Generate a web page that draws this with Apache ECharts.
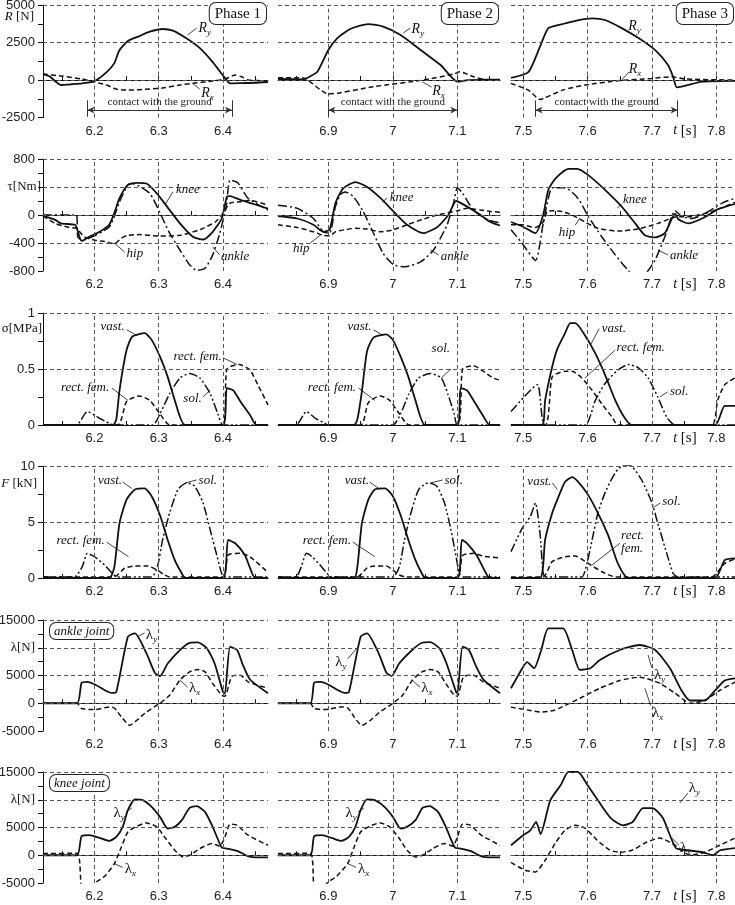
<!DOCTYPE html>
<html>
<head>
<meta charset="utf-8">
<script src="https://cdn.jsdelivr.net/npm/echarts@6/dist/echarts.min.js"></script>
<style>
  html, body { margin: 0; padding: 0; background: #fff; }
  #chart { width: 735px; height: 905px; }
</style>
</head>
<body>
<div id="chart"></div>
<script>
// ---- axes: three phases (columns) x six quantities (rows)
const xLabels = [[6.2, 6.3, 6.4], [6.9, 7, 7.1], [7.5, 7.6, 7.7, 7.8]];
const xTicks = [
  [6.15, 6.2, 6.25, 6.3, 6.35, 6.4, 6.45],
  [6.85, 6.9, 6.95, 7, 7.05, 7.1, 7.15],
  [7.5, 7.55, 7.6, 7.65, 7.7, 7.75, 7.8]
];
const xRange = [[6.12, 6.47], [6.822, 7.166], [7.481, 7.829]];
const yRange = [[-2500, 5000], [-800, 800], [0, 1], [0, 10], [-5000, 15000], [-5000, 15000]];
const yStep = [1250, 200, 0.25, 2.5, 2500, 2500];
const yMajor = [2500, 400, 0.5, 5, 5000, 5000];
const yNames = ['{i|R} [N]', 'τ[Nm]', 'σ[MPa]', '{i|F} [kN]', 'λ[N]', 'λ[N]'];
const yNameAt = [4200, 400, 0.86, 8.4, 10000, 10000];
const yNameHidesTick = [false, true, false, false, true, true];
const phaseNames = ['Phase 1', 'Phase 2', 'Phase 3'];
const contact = [[6.189, 6.414], [6.9, 7.1], [7.519, 7.74]];

// ---- ground reaction R [N]
const ry1 = [[6.12,400],[6.13,250],[6.148,-330],[6.165,-280],[6.181,-220],[6.2,-70],[6.219,530],[6.231,1130],[6.239,2000],[6.252,2600],[6.27,2930],[6.286,3220],[6.306,3400],[6.322,3290],[6.343,2780],[6.364,2130],[6.384,1200],[6.402,200],[6.411,-220],[6.43,-200],[6.45,-180],[6.47,-130]];
const rx1 = [[6.12,400],[6.148,270],[6.181,70],[6.2,-130],[6.219,-330],[6.234,-600],[6.252,-670],[6.286,-600],[6.306,-530],[6.333,-330],[6.356,-200],[6.384,-70],[6.403,70],[6.419,330],[6.43,200],[6.44,0],[6.47,-50]];
const ry2 = [[6.822,70],[6.861,50],[6.872,250],[6.883,550],[6.9,2000],[6.914,2800],[6.934,3400],[6.962,3730],[6.985,3560],[7.012,3000],[7.043,2000],[7.074,1000],[7.1,-110],[7.116,0],[7.14,20],[7.166,30]];
const rx2 = [[6.822,150],[6.86,150],[6.9,-930],[6.97,-440],[7.047,0],[7.094,400],[7.104,550],[7.125,220],[7.146,0],[7.166,-20]];
const ry3 = [[7.481,150],[7.508,530],[7.526,2220],[7.539,3460],[7.561,3730],[7.581,3950],[7.607,4110],[7.627,4000],[7.653,3460],[7.679,2800],[7.705,2000],[7.725,1000],[7.733,200],[7.739,-490],[7.778,-110],[7.829,-50]];
const rx3 = [[7.481,-220],[7.508,-670],[7.526,-1290],[7.534,-1180],[7.561,-670],[7.596,-330],[7.647,-50],[7.7,110],[7.731,220],[7.751,70],[7.829,0]];

// ---- joint torques tau [Nm]
const knee1 = [[6.12,-14],[6.139,-70],[6.148,-120],[6.17,-140],[6.173,-200],[6.18,-370],[6.192,-310],[6.208,-240],[6.223,-140],[6.231,30],[6.239,240],[6.252,430],[6.266,460],[6.281,450],[6.297,310],[6.313,120],[6.333,-120],[6.353,-310],[6.369,-350],[6.384,-240],[6.398,-50],[6.406,260],[6.411,270],[6.427,215],[6.45,150],[6.47,90]];
const ankle1 = [[6.12,0],[6.172,0],[6.174,-310],[6.18,-360],[6.223,-170],[6.239,190],[6.252,430],[6.259,450],[6.286,310],[6.302,30],[6.317,-260],[6.333,-500],[6.348,-710],[6.359,-790],[6.372,-760],[6.384,-570],[6.395,-260],[6.405,120],[6.411,500],[6.423,460],[6.439,240],[6.47,70]];
const hip1 = [[6.12,-14],[6.139,-120],[6.161,-180],[6.172,-190],[6.184,-310],[6.2,-360],[6.216,-380],[6.231,-410],[6.242,-330],[6.252,-290],[6.27,-280],[6.3,-300],[6.333,-290],[6.364,-210],[6.388,-100],[6.398,0],[6.411,170],[6.427,190],[6.442,210],[6.47,140]];
const knee2 = [[6.822,-14],[6.852,-50],[6.877,-140],[6.892,-240],[6.902,-210],[6.911,170],[6.923,380],[6.942,470],[6.96,400],[6.981,240],[7.001,50],[7.022,-140],[7.047,-260],[7.069,-170],[7.086,0],[7.098,200],[7.115,120],[7.136,0],[7.151,-100],[7.166,-150]];
const ankle2 = [[6.822,140],[6.852,95],[6.877,-50],[6.892,-240],[6.902,-260],[6.911,120],[6.919,290],[6.926,330],[6.939,260],[6.954,50],[6.97,-260],[6.985,-550],[7.001,-710],[7.019,-740],[7.043,-670],[7.063,-500],[7.084,-140],[7.094,170],[7.1,390],[7.108,310],[7.125,70],[7.147,-70],[7.166,-110]];
const hip2 = [[6.822,-140],[6.852,-180],[6.877,-240],[6.892,-290],[6.902,-300],[6.911,-240],[6.926,-210],[6.942,-190],[6.96,-200],[6.981,-240],[7.001,-210],[7.022,-140],[7.047,-60],[7.069,0],[7.1,60],[7.115,95],[7.136,70],[7.151,50],[7.166,40]];
const knee3 = [[7.481,-100],[7.498,-160],[7.519,-260],[7.531,0],[7.539,360],[7.55,520],[7.57,660],[7.584,660],[7.601,570],[7.627,360],[7.653,120],[7.674,-120],[7.689,-290],[7.705,-320],[7.72,-260],[7.736,20],[7.741,-60],[7.756,-120],[7.778,-50],[7.802,80],[7.829,160]];
const ankle3 = [[7.481,-210],[7.498,-400],[7.519,-650],[7.531,-120],[7.539,240],[7.545,390],[7.565,390],[7.585,240],[7.601,-20],[7.622,-310],[7.643,-570],[7.663,-790],[7.674,-880],[7.689,-850],[7.705,-640],[7.72,-310],[7.736,60],[7.746,-20],[7.762,-50],[7.782,20],[7.809,170],[7.829,240]];
const hip3 = [[7.481,-140],[7.498,-140],[7.519,-180],[7.531,-100],[7.537,50],[7.545,60],[7.56,50],[7.576,0],[7.596,-100],[7.616,-190],[7.647,-230],[7.679,-200],[7.709,-120],[7.736,-30],[7.762,-20],[7.793,50],[7.829,180]];

// ---- muscle stress sigma [MPa]
const vastS1 = [[6.12,0],[6.229,0],[6.234,0.05],[6.239,0.31],[6.25,0.67],[6.259,0.79],[6.278,0.82],[6.289,0.76],[6.302,0.61],[6.314,0.43],[6.325,0.22],[6.341,0],[6.4,0],[6.406,0.33],[6.416,0.31],[6.427,0.21],[6.442,0.09],[6.452,0],[6.47,0]];
const rectS1 = [[6.12,0],[6.236,0],[6.25,0.21],[6.27,0.26],[6.286,0.22],[6.302,0.1],[6.317,0],[6.4,0],[6.406,0.5],[6.425,0.54],[6.442,0.49],[6.455,0.35],[6.47,0.18]];
const solS1 = [[6.12,0],[6.172,0],[6.189,0.12],[6.208,0.06],[6.223,0.015],[6.23,0],[6.291,0],[6.302,0.1],[6.317,0.28],[6.333,0.42],[6.348,0.46],[6.364,0.42],[6.38,0.28],[6.392,0.1],[6.4,0],[6.47,0]];
const vastS2 = [[6.822,0],[6.94,0],[6.945,0.05],[6.952,0.3],[6.96,0.66],[6.97,0.78],[6.99,0.81],[7.0,0.76],[7.012,0.61],[7.024,0.43],[7.035,0.22],[7.05,0],[7.1,0],[7.105,0.33],[7.115,0.31],[7.127,0.2],[7.14,0.08],[7.15,0],[7.166,0]];
const rectS2 = [[6.822,0],[6.95,0],[6.962,0.2],[6.98,0.26],[6.995,0.22],[7.01,0.1],[7.025,0],[7.1,0],[7.108,0.5],[7.125,0.53],[7.14,0.48],[7.155,0.42],[7.166,0.4]];
const solS2 = [[6.822,0],[6.85,0],[6.866,0.12],[6.88,0.06],[6.895,0.015],[6.9,0],[7.0,0],[7.012,0.1],[7.025,0.28],[7.04,0.42],[7.058,0.46],[7.075,0.42],[7.085,0.28],[7.095,0.1],[7.1,0],[7.166,0]];
const vastS3 = [[7.481,0],[7.529,0],[7.534,0.22],[7.545,0.52],[7.553,0.68],[7.565,0.82],[7.573,0.91],[7.581,0.91],[7.596,0.8],[7.612,0.64],[7.627,0.45],[7.643,0.22],[7.658,0.06],[7.669,0],[7.798,0],[7.813,0.17],[7.829,0.17]];
const rectS3 = [[7.481,0],[7.534,0],[7.545,0.43],[7.565,0.48],[7.576,0.48],[7.591,0.42],[7.607,0.31],[7.622,0.19],[7.638,0.07],[7.647,0],[7.793,0],[7.802,0.22],[7.813,0.36],[7.829,0.42]];
const solS3 = [[7.481,0.12],[7.522,0.36],[7.534,0],[7.596,0],[7.612,0.22],[7.627,0.37],[7.647,0.49],[7.663,0.54],[7.679,0.51],[7.694,0.42],[7.709,0.25],[7.723,0.07],[7.736,0],[7.829,0]];

// ---- muscle force F [kN]
const vastF1 = [[6.12,0],[6.223,0],[6.231,1.0],[6.239,4.9],[6.25,7.0],[6.263,7.9],[6.278,8.0],[6.289,7.3],[6.302,5.6],[6.314,3.4],[6.325,1.6],[6.336,0.4],[6.341,0],[6.4,0],[6.408,3.4],[6.419,3.1],[6.434,2.05],[6.442,0.9],[6.45,0],[6.47,0]];
const rectF1 = [[6.12,0.1],[6.231,0.1],[6.247,0.87],[6.263,1.07],[6.283,1.07],[6.298,0.7],[6.309,0.27],[6.317,0.1],[6.4,0.1],[6.408,2.05],[6.427,2.2],[6.442,1.9],[6.47,0.5]];
const solF1 = [[6.12,0.1],[6.169,0.1],[6.181,1.0],[6.189,2.2],[6.2,1.9],[6.216,1.16],[6.228,0.4],[6.235,0.1],[6.289,0.1],[6.298,1.0],[6.306,3.4],[6.317,5.8],[6.33,7.9],[6.344,8.5],[6.356,8.2],[6.369,6.7],[6.38,4.3],[6.391,1.9],[6.398,0.4],[6.403,0.1],[6.47,0.1]];
const vastF2 = [[6.822,0],[6.94,0],[6.945,1],[6.952,4.9],[6.962,7.0],[6.972,7.9],[6.988,8.0],[7.0,7.3],[7.012,5.6],[7.024,3.4],[7.035,1.6],[7.045,0.4],[7.05,0],[7.1,0],[7.107,3.4],[7.115,3.1],[7.13,2.0],[7.14,0.9],[7.15,0],[7.166,0]];
const rectF2 = [[6.822,0.1],[6.945,0.1],[6.96,0.9],[6.972,1.07],[6.99,1.07],[7.0,0.7],[7.01,0.27],[7.02,0.1],[7.1,0.1],[7.108,2.0],[7.125,2.2],[7.14,1.95],[7.166,1.8]];
const solF2 = [[6.822,0.1],[6.85,0.1],[6.858,1.0],[6.866,2.2],[6.875,1.9],[6.888,1.1],[6.898,0.4],[6.905,0.1],[7.0,0.1],[7.01,1.0],[7.018,3.4],[7.028,5.8],[7.04,7.9],[7.055,8.5],[7.068,8.2],[7.08,6.7],[7.09,4.3],[7.098,1.9],[7.103,0.4],[7.108,0.1],[7.166,0.1]];
const vastF3 = [[7.481,0],[7.526,0],[7.534,3.4],[7.545,5.8],[7.553,7.0],[7.565,8.6],[7.576,9.0],[7.585,8.6],[7.601,7.4],[7.616,5.8],[7.632,3.8],[7.647,1.3],[7.663,0],[7.798,0],[7.813,1.6],[7.829,1.76]];
const rectF3 = [[7.481,0.1],[7.531,0.1],[7.545,1.46],[7.565,1.9],[7.581,1.96],[7.601,1.3],[7.622,0.56],[7.643,0.1],[7.793,0.1],[7.813,1.3],[7.829,1.7]];
const solF3 = [[7.481,2.35],[7.498,4.4],[7.511,5.5],[7.519,6.7],[7.526,4.0],[7.531,0.4],[7.535,0.1],[7.591,0.1],[7.599,1.3],[7.607,3.4],[7.616,5.8],[7.627,7.6],[7.638,8.9],[7.647,9.7],[7.658,10.1],[7.669,9.95],[7.684,8.75],[7.7,6.7],[7.709,4.9],[7.723,2.2],[7.733,0.4],[7.74,0.1],[7.829,0.1]];

// ---- ankle joint reaction lambda [N]
const lyA1 = [[6.12,0],[6.173,0],[6.18,3670],[6.189,3850],[6.203,3250],[6.216,2350],[6.227,1870],[6.234,2040],[6.252,12000],[6.263,12590],[6.281,8980],[6.294,5480],[6.302,4880],[6.314,7170],[6.333,9580],[6.348,10900],[6.361,10970],[6.375,9880],[6.387,7170],[6.4,2040],[6.403,1750],[6.411,10170],[6.422,9580],[6.431,6870],[6.442,4280],[6.47,1800]];
const lxA1 = [[6.12,0],[6.173,0],[6.18,-960],[6.2,-1140],[6.223,-670],[6.231,-850],[6.242,-2470],[6.255,-3980],[6.266,-3070],[6.281,-1570],[6.302,0],[6.317,1450],[6.333,4160],[6.348,5660],[6.361,6080],[6.372,5660],[6.384,3560],[6.398,1450],[6.403,1270],[6.414,4880],[6.427,5060],[6.439,3850],[6.47,2700]];
const lyA2 = [[6.822,0],[6.872,0],[6.878,3700],[6.888,3850],[6.902,3250],[6.915,2350],[6.925,1870],[6.932,2040],[6.95,12000],[6.96,12600],[6.978,9000],[6.99,5500],[6.998,4900],[7.01,7200],[7.03,9600],[7.045,10900],[7.058,11000],[7.072,9900],[7.083,7200],[7.098,2000],[7.1,1750],[7.108,10200],[7.118,9600],[7.128,6900],[7.14,4300],[7.166,1800]];
const lxA2 = [[6.822,0],[6.872,0],[6.878,-960],[6.895,-1140],[6.92,-670],[6.93,-850],[6.94,-2470],[6.952,-3980],[6.965,-3070],[6.98,-1570],[7.0,0],[7.015,1450],[7.03,4160],[7.045,5660],[7.058,6080],[7.07,5660],[7.082,3560],[7.095,1450],[7.1,1270],[7.11,4880],[7.125,5060],[7.14,3850],[7.166,2700]];
const lyA3 = [[7.481,2700],[7.495,5600],[7.506,7400],[7.517,6300],[7.528,9600],[7.539,13500],[7.562,13500],[7.576,9600],[7.588,6000],[7.604,6300],[7.619,7800],[7.65,9600],[7.681,10500],[7.705,9600],[7.728,6300],[7.746,2300],[7.759,500],[7.782,500],[7.798,2300],[7.813,4100],[7.829,4500]];
const lxA3 = [[7.481,-700],[7.511,-1300],[7.526,-1600],[7.547,-1300],[7.565,-400],[7.588,900],[7.619,2700],[7.65,4100],[7.681,4700],[7.712,3600],[7.736,1800],[7.759,0],[7.782,500],[7.805,2300],[7.829,3800]];

// ---- knee joint reaction lambda [N]
const lyK1 = [[6.12,0],[6.173,0],[6.18,3430],[6.192,3610],[6.208,3130],[6.223,2580],[6.234,3300],[6.244,5110],[6.252,8120],[6.263,10050],[6.275,9930],[6.289,8720],[6.302,6910],[6.314,4820],[6.325,5110],[6.336,6320],[6.348,8540],[6.359,8840],[6.372,7820],[6.384,5110],[6.398,1390],[6.406,1210],[6.422,780],[6.442,-300],[6.47,-400]];
const lxK1 = [[6.12,300],[6.173,350],[6.18,-6010],[6.189,-6200],[6.203,-4820],[6.216,-3790],[6.231,-1500],[6.242,1500],[6.252,4200],[6.266,5230],[6.281,5830],[6.297,5110],[6.311,3010],[6.325,900],[6.338,-300],[6.348,0],[6.364,1210],[6.383,2110],[6.395,1630],[6.403,3300],[6.411,5600],[6.422,5420],[6.439,3610],[6.47,1800]];
const lyK2 = [[6.822,0],[6.872,0],[6.878,3430],[6.89,3610],[6.905,3130],[6.92,2580],[6.932,3300],[6.942,5110],[6.95,8120],[6.96,10050],[6.972,9930],[6.987,8720],[7.0,6910],[7.012,4820],[7.022,5110],[7.035,6320],[7.046,8540],[7.057,8840],[7.07,7820],[7.082,5110],[7.096,1390],[7.105,1210],[7.12,780],[7.14,-300],[7.166,-400]];
const lxK2 = [[6.822,300],[6.872,350],[6.878,-6010],[6.887,-6200],[6.9,-4820],[6.913,-3790],[6.93,-1500],[6.94,1500],[6.95,4200],[6.964,5230],[6.98,5830],[6.995,5110],[7.01,3010],[7.022,900],[7.035,-300],[7.046,0],[7.062,1210],[7.08,2110],[7.093,1630],[7.1,3300],[7.108,5600],[7.12,5420],[7.137,3610],[7.166,1800]];
const lyK3 = [[7.481,1800],[7.5,3600],[7.511,4500],[7.52,6000],[7.527,3800],[7.542,9900],[7.558,12600],[7.57,15000],[7.585,15000],[7.6,12600],[7.616,9900],[7.636,6700],[7.655,5400],[7.67,6000],[7.686,8500],[7.701,8500],[7.717,6700],[7.737,1300],[7.756,900],[7.779,540],[7.795,0],[7.806,900],[7.829,1300]];
const lxK3 = [[7.481,-1300],[7.503,-2700],[7.519,-3000],[7.534,-900],[7.55,2200],[7.565,4500],[7.581,5400],[7.596,4900],[7.615,2700],[7.635,900],[7.65,540],[7.669,900],[7.689,2200],[7.712,3100],[7.736,1800],[7.759,0],[7.782,540],[7.805,1800],[7.829,3100]];

// panel curves, row by row
const panels = [
  [[ry1, 'solid'], [rx1, 'dash']], [[ry2, 'solid'], [rx2, 'dash']], [[ry3, 'solid'], [rx3, 'dash']],
  [[knee1, 'solid'], [hip1, 'dash'], [ankle1, 'dashdot']],
  [[knee2, 'solid'], [hip2, 'dash'], [ankle2, 'dashdot']],
  [[knee3, 'solid'], [hip3, 'dash'], [ankle3, 'dashdot']],
  [[vastS1, 'solid'], [rectS1, 'dash'], [solS1, 'dashdotdot']],
  [[vastS2, 'solid'], [rectS2, 'dash'], [solS2, 'dashdotdot']],
  [[vastS3, 'solid'], [rectS3, 'dash'], [solS3, 'dashdotdot']],
  [[vastF1, 'solid'], [rectF1, 'dash'], [solF1, 'dashdotdot']],
  [[vastF2, 'solid'], [rectF2, 'dash'], [solF2, 'dashdotdot']],
  [[vastF3, 'solid'], [rectF3, 'dash'], [solF3, 'dashdotdot']],
  [[lyA1, 'solid'], [lxA1, 'dash']], [[lyA2, 'solid'], [lxA2, 'dash']], [[lyA3, 'solid'], [lxA3, 'dash']],
  [[lyK1, 'solid'], [lxK1, 'dash']], [[lyK2, 'solid'], [lxK2, 'dash']], [[lyK3, 'solid'], [lxK3, 'dash']]
];

// curve labels: panel, leader line [from, to] (data coords), text position, text, align
const notes = [
  [0, [[6.345,3000],[6.359,3470]], [6.362,3470], '{i|R}{s|y}', 'left'],
  [0, [[6.352,-200],[6.364,-600]], [6.366,-870], '{i|R}{s|x}', 'left'],
  [1, [[7.016,3130],[7.027,3470]], [7.029,3400], '{i|R}{s|y}', 'left'],
  [1, [[7.046,-130],[7.06,-470]], [7.061,-730], '{i|R}{s|x}', 'left'],
  [2, null, [7.663,3600], '{i|R}{s|y}', 'left'],
  [2, [[7.653,0],[7.664,530]], [7.664,730], '{i|R}{s|x}', 'left'],
  [3, [[6.31,150],[6.322,330]], [6.327,357], 'knee', 'left'],
  [3, [[6.231,-400],[6.247,-530]], [6.25,-557], 'hip', 'left'],
  [3, [[6.384,-457],[6.395,-571]], [6.397,-600], 'ankle', 'left'],
  [4, [[6.984,186],[6.991,243]], [6.995,243], 'knee', 'left'],
  [4, [[6.888,-286],[6.872,-400]], [6.871,-486], 'hip', 'right'],
  [4, [[7.058,-500],[7.071,-571]], [7.074,-600], 'ankle', 'left'],
  [5, [[7.646,100],[7.653,157]], [7.655,214], 'knee', 'left'],
  [5, [[7.588,-43],[7.581,-143]], [7.581,-257], 'hip', 'right'],
  [5, [[7.709,-500],[7.725,-571]], [7.728,-586], 'ankle', 'left'],
  [6, [[6.266,0.8],[6.25,0.85]], [6.247,0.875], 'vast.', 'right'],
  [6, [[6.252,0.22],[6.227,0.33]], [6.223,0.33], 'rect. fem.', 'right'],
  [6, [[6.422,0.54],[6.4,0.6]], [6.398,0.61], 'rect. fem.', 'right'],
  [6, [[6.38,0.31],[6.369,0.25]], [6.367,0.232], 'sol.', 'right'],
  [7, [[6.985,0.8],[6.97,0.85]], [6.967,0.875], 'vast.', 'right'],
  [7, [[6.972,0.22],[6.947,0.33]], [6.943,0.33], 'rect. fem.', 'right'],
  [7, [[7.075,0.42],[7.09,0.5]], [7.06,0.68], 'sol.', 'left'],
  [8, [[7.605,0.72],[7.618,0.86]], [7.622,0.865], 'vast.', 'left'],
  [8, [[7.596,0.42],[7.643,0.67]], [7.645,0.69], 'rect. fem.', 'left'],
  [8, [[7.712,0.25],[7.724,0.295]], [7.728,0.295], 'sol.', 'left'],
  [9, [[6.258,8.0],[6.244,8.57]], [6.243,8.66], 'vast.', 'right'],
  [9, [[6.341,8.48],[6.359,8.75]], [6.362,8.66], 'sol.', 'left'],
  [9, [[6.253,1.9],[6.219,3.2]], [6.216,3.3], 'rect. fem.', 'right'],
  [10, [[6.978,8.0],[6.964,8.57]], [6.963,8.66], 'vast.', 'right'],
  [10, [[7.058,8.48],[7.077,8.75]], [7.08,8.66], 'sol.', 'left'],
  [10, [[6.972,1.9],[6.938,3.2]], [6.935,3.3], 'rect. fem.', 'right'],
  [11, [[7.553,7.9],[7.545,8.5]], [7.544,8.57], 'vast.', 'right'],
  [11, [[7.702,6.3],[7.713,6.7]], [7.716,6.8], 'sol.', 'left'],
  [11, [[7.607,1.16],[7.65,3.1]], [7.652,3.2], 'rect.\nfem.', 'left'],
  [12, [[6.267,12000],[6.278,12650]], [6.28,12290], '{n|λ}{s|y}', 'left'],
  [12, [[6.333,4160],[6.345,2890]], [6.347,2700], '{n|λ}{s|x}', 'left'],
  [13, [[6.945,10000],[6.93,8000]], [6.928,7400], '{n|λ}{s|y}', 'right'],
  [13, [[7.03,4160],[7.042,2890]], [7.044,2700], '{n|λ}{s|x}', 'left'],
  [14, [[7.694,8700],[7.7,6300]], [7.703,5000], '{n|λ}{s|y}', 'left'],
  [14, [[7.689,2700],[7.698,-400]], [7.7,-1800], '{n|λ}{s|x}', 'left'],
  [15, [[6.258,8500],[6.249,7800]], [6.247,7580], '{n|λ}{s|y}', 'right'],
  [15, [[6.231,-1500],[6.244,-2200]], [6.247,-2530], '{n|λ}{s|x}', 'left'],
  [16, [[6.955,8500],[6.946,7800]], [6.944,7580], '{n|λ}{s|y}', 'right'],
  [16, [[6.93,-1500],[6.943,-2200]], [6.946,-2530], '{n|λ}{s|x}', 'left'],
  [17, [[7.743,9400],[7.756,11200]], [7.757,12100], '{n|λ}{s|y}', 'left'],
  [17, [[7.731,3070],[7.742,1800]], [7.743,1260], '{n|λ}{s|x}', 'left']
];
const jointBoxes = [[12, 'ankle joint'], [15, 'knee joint']];

const gridLeft = [43, 278, 511];
const gridWidth = [225, 222, 224];
const gridTop = [5, 159, 313, 466, 620, 772];
const gridHeight = [112.6, 112, 112, 112, 111, 111];
const nameRight = [-9, -2, -1, -6, -8, -8];

const dashes = {
  solid: 'solid',
  dash: [5, 3],
  dashdot: [9, 3, 2, 3],
  dashdotdot: [9, 2.5, 2, 2.5, 2, 2.5]
};
const ink = '#111';
const sans = 'Liberation Sans';
const serif = 'Liberation Serif';

function isMajor(v, step) {
  const k = v / step;
  return Math.abs(k - Math.round(k)) < 1e-6;
}

const grids = [], xAxes = [], yAxes = [], series = [];
for (let r = 0; r < 6; r++) {
  for (let c = 0; c < 3; c++) {
    const i = r * 3 + c;
    grids.push({ left: gridLeft[c], top: gridTop[r], width: gridWidth[c], height: gridHeight[r], outerBoundsMode: 'none' });
    xAxes.push({
      type: 'value', gridIndex: i, min: xRange[c][0], max: xRange[c][1],
      axisLine: { lineStyle: { color: ink, width: 1 } },
      axisTick: { inside: true, length: 4, customValues: xTicks[c], lineStyle: { color: ink } },
      axisLabel: { customValues: xLabels[c], color: '#222', fontFamily: sans, fontSize: 13, margin: 7 },
      splitLine: { show: false }
    });
    yAxes.push({
      type: 'value', gridIndex: i, min: yRange[r][0], max: yRange[r][1], interval: yStep[r],
      show: c === 0,
      axisLine: { show: true, lineStyle: { color: ink, width: 1 } },
      axisTick: { show: true, length: 5, lineStyle: { color: ink } },
      axisLabel: {
        color: '#222', fontFamily: sans, fontSize: 13, margin: 8,
        formatter: v => {
          if (!isMajor(v, yMajor[r])) return '';
          if (yNameHidesTick[r] && Math.abs(v - yNameAt[r]) < 1e-6) return '';
          return String(v);
        }
      },
      splitLine: { show: false }
    });

    // dashed grid lines
    const gl = xLabels[c].map(x => ({ xAxis: x }));
    for (let v = yRange[r][0] + yMajor[r]; v <= yRange[r][1] + 1e-9; v += yMajor[r]) {
      gl.push({ yAxis: +v.toFixed(4) });
    }
    series.push({
      type: 'line', xAxisIndex: i, yAxisIndex: i, data: [], z: 1, silent: true,
      markLine: {
        silent: true, symbol: 'none', animation: false,
        label: { show: false },
        lineStyle: { type: [4, 3], color: '#555', width: 1 },
        data: gl
      }
    });

    panels[i].forEach(([data, style]) => {
      series.push({
        type: 'line', xAxisIndex: i, yAxisIndex: i, data: data, z: 3,
        showSymbol: false, smooth: 0.2, animation: false, silent: true,
        lineStyle: { color: ink, width: style === 'solid' ? 1.8 : 1.5, type: dashes[style] }
      });
    });

    // contact-with-the-ground bracket on the reaction row
    if (r === 0) {
      const [t0, t1] = contact[c];
      series.push({
        type: 'line', xAxisIndex: i, yAxisIndex: i, data: [], z: 2, silent: true,
        markLine: {
          silent: true, animation: false, symbol: 'none',
          lineStyle: { type: 'solid', color: '#333', width: 1 },
          label: { show: false },
          data: [
            [{ coord: [t0, -2000], symbol: 'arrow', symbolSize: [5, 7] },
             { coord: [t1, -2000], symbol: 'arrow', symbolSize: [5, 7],
               label: { show: true, position: 'middle', formatter: 'contact with the ground',
                        fontFamily: serif, fontSize: 11, color: '#222', distance: 2 } }],
            [{ coord: [t0, -1350] }, { coord: [t0, -2450] }],
            [{ coord: [t1, -1350] }, { coord: [t1, -2450] }]
          ]
        }
      });
    }
  }
}

const chart = echarts.init(document.getElementById('chart'));
chart.setOption({
  animation: false,
  backgroundColor: '#fff',
  grid: grids, xAxis: xAxes, yAxis: yAxes, series: series
});

// ---- texts placed through the axes
const rich = {
  i: { fontFamily: serif, fontStyle: 'italic', fontSize: 14, lineHeight: 18 },
  n: { fontFamily: serif, fontSize: 15, lineHeight: 18 },
  s: { fontFamily: serif, fontStyle: 'italic', fontSize: 9, lineHeight: 18, verticalAlign: 'bottom' }
};
const px = (i, p) => chart.convertToPixel({ gridIndex: i }, p);
const graphics = [];

notes.forEach(([i, line, at, text, align]) => {
  if (line) {
    const a = px(i, line[0]), b = px(i, line[1]);
    graphics.push({ type: 'line', silent: true, z: 10,
      shape: { x1: a[0], y1: a[1], x2: b[0], y2: b[1] },
      style: { stroke: ink, lineWidth: 0.8 } });
  }
  const p = px(i, at);
  graphics.push({ type: 'text', silent: true, z: 10, x: p[0], y: p[1],
    style: { text: text, fill: ink, rich: rich, align: align, verticalAlign: 'middle',
             font: 'italic 13px "Liberation Serif"', lineHeight: 13 } });
});

const nameRich = {
  i: { fontFamily: serif, fontStyle: 'italic', fontSize: 13 }
};
for (let r = 0; r < 6; r++) {
  const p = px(r * 3, [xRange[0][0], yNameAt[r]]);
  graphics.push({ type: 'text', silent: true, x: p[0] + nameRight[r], y: p[1],
    style: { text: yNames[r], fill: '#111', rich: nameRich, align: 'right', verticalAlign: 'middle',
             font: '13px "Liberation Serif"' } });
  const q = px(r * 3 + 2, [7.733, yRange[r][0]]);
  graphics.push({ type: 'text', silent: true, x: q[0], y: q[1] + 13,
    style: { text: '{i|t} [s]', fill: '#111', rich: rich, align: 'left', verticalAlign: 'middle',
             font: '15px "Liberation Serif"' } });
}

for (let c = 0; c < 3; c++) {
  const p = px(c, [xRange[c][1], yRange[0][1]]);
  graphics.push({ type: 'text', silent: true, z: 10, x: p[0] - 2, y: p[1] - 2,
    style: { text: phaseNames[c], fill: '#111', align: 'right', verticalAlign: 'top',
             font: '15px "Liberation Serif"', backgroundColor: '#fff',
             borderColor: '#222', borderWidth: 1, borderRadius: 6, padding: [4, 5, 2, 5] } });
}

jointBoxes.forEach(([i, text]) => {
  const p = px(i, [xRange[0][0], yRange[4][1]]);
  graphics.push({ type: 'text', silent: true, z: 10, x: p[0] + 7, y: p[1] + 3,
    style: { text: text, fill: '#111', align: 'left', verticalAlign: 'top',
             font: 'italic 13px "Liberation Serif"', backgroundColor: '#fff',
             borderColor: '#222', borderWidth: 1, borderRadius: 6, padding: [2, 4, 1, 4] } });
});

chart.setOption({ graphic: graphics });
</script>
</body>
</html>
